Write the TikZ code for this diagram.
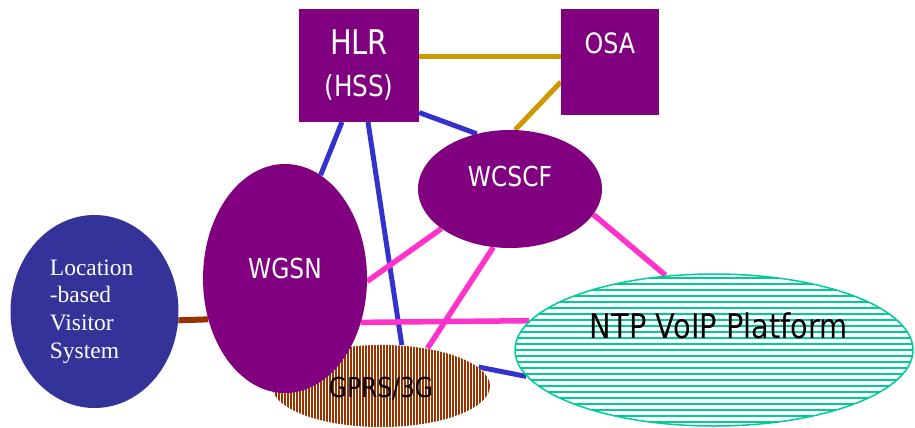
\documentclass[tikz,border=0pt]{standalone}
\usepackage{fontspec}
\setmainfont{Liberation Serif}
\newfontfamily\slidefont[FakeStretch=0.85]{DejaVu Sans}
\usetikzlibrary{shapes.geometric,patterns.meta,backgrounds}
\definecolor{nodepurple}{RGB}{128,0,128}
\definecolor{locblue}{RGB}{51,51,153}
\definecolor{linkblue}{RGB}{51,51,204}
\definecolor{linkpink}{RGB}{255,51,204}
\definecolor{linkgold}{RGB}{204,153,0}
\definecolor{linkbrown}{RGB}{153,51,0}
\definecolor{ntpgreen}{RGB}{0,204,153}

\begin{document}
\begin{tikzpicture}[x=1pt,y=-1pt,
  box/.style={fill=nodepurple,text=white,inner sep=0pt},
  oval/.style={ellipse,fill=nodepurple,text=white,inner sep=0pt,
    font=\slidefont\fontsize{27.5}{33}\selectfont},
  goldline/.style={linkgold,line width=5pt},
  blueline/.style={linkblue,line width=5pt},
  pinkline/.style={linkpink,line width=5.5pt},
  brownline/.style={linkbrown,line width=6pt}]
  \useasboundingbox (0,0) rectangle (915,428);
  \node[box,minimum width=120pt,minimum height=112.5pt,align=center,
    font=\slidefont\fontsize{29}{42}\selectfont] (hlr) at (359,65.5)
    {{\fontsize{34}{42}\selectfont HLR}\\(HSS)};
  \node[box,minimum width=98pt,text height=44pt,text depth=62pt,
    font=\slidefont\fontsize{28}{34}\selectfont] (osa) at (610,62) {OSA};
  \node[oval,minimum width=184pt,minimum height=118pt,
    text height=20pt,text depth=26pt] (wcscf) at (510,189) {WCSCF};
  \node[ellipse,inner sep=0pt,minimum width=218pt,minimum height=82pt,
    preaction={fill=white},pattern={Lines[angle=90,distance=3pt,line width=1.2pt]},
    pattern color=linkbrown,text height=22pt,text depth=0pt,
    font=\slidefont\fontsize{27.5}{33}\selectfont] (gprs) at (381,386) {GPRS/3G};
  \node[oval,minimum width=164pt,minimum height=229pt,
    text height=20pt,text depth=20pt] (wgsn) at (285,278.5) {WGSN};
  \node[ellipse,inner sep=0pt,fill=locblue,text=white,minimum width=168pt,
    minimum height=193pt,align=left,font=\fontsize{23.5}{27.7}\selectfont]
    (loc) at (94.5,311.5) {Location\\-based\\Visitor\\System\hspace*{20pt}};
  \node[ellipse,inner sep=0pt,draw=ntpgreen,line width=1.5pt,
    minimum width=398pt,minimum height=152pt,preaction={fill=white},
    pattern={Lines[distance=6pt,line width=2pt]},pattern color=ntpgreen,
    text height=25pt,text depth=49pt,
    font=\slidefont\fontsize{34}{40}\selectfont] (ntp) at (714,350) {\hspace*{10pt}NTP VoIP Platform};
  \begin{scope}[on background layer]
    \draw[goldline] ([yshift=8.5pt]hlr.east) -- ([yshift=8.5pt]hlr.east -| osa.west);
    \draw[goldline] ([yshift=-20pt]osa.west) -- (wcscf.85);
    \draw[blueline] (hlr.-38) -- (wcscf.121);
    \draw[blueline] ([xshift=-17pt]hlr.south) -- (wgsn.71);
    \draw[blueline] ([xshift=9pt]hlr.south) -- (gprs.63);
    \draw[blueline] (gprs.11) -- (ntp.188);
    \draw[brownline] (loc.-6) -- (wgsn.208);
    \draw[pinkline] (wgsn.-30) -- (ntp.171);
    \draw[pinkline] (wcscf.210) -- (wgsn.-2);
    \draw[pinkline] (wcscf.254) -- (gprs.39);
    \draw[pinkline] (wcscf.-17) -- (ntp.123);
  \end{scope}
\end{tikzpicture}
\end{document}
